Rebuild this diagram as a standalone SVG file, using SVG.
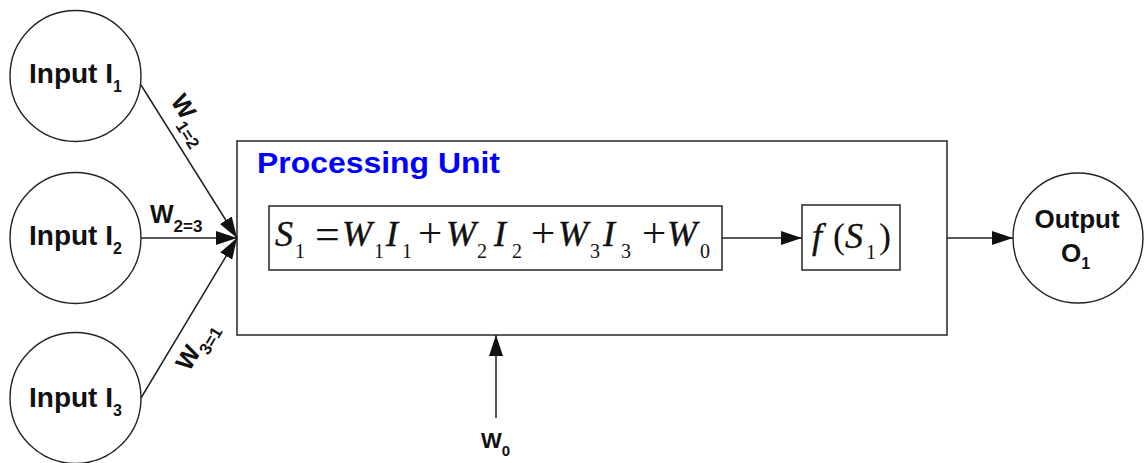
<svg xmlns="http://www.w3.org/2000/svg" width="1144" height="463" viewBox="0 0 1144 463">
<style>
.nd circle{fill:#fff;stroke:#222;stroke-width:1.4}
.box{fill:none;stroke:#333;stroke-width:1.6}
.lbl{font-family:"Liberation Sans",Arial,sans-serif;font-weight:bold;fill:#111}
.mi{font-family:"Liberation Serif","Times New Roman",serif;font-style:italic;fill:#111;stroke:#111;stroke-width:0.4}
.mr{font-family:"Liberation Serif","Times New Roman",serif;font-style:normal;fill:#111}
.conn line{stroke:#222;stroke-width:1.5}
</style>
<defs>
<marker id="ah" markerUnits="userSpaceOnUse" markerWidth="21" markerHeight="14" refX="21" refY="7" orient="auto">
<path d="M0,0 L21,7 L0,14 Z" fill="#111"/>
</marker>
</defs>
<rect width="1144" height="463" fill="#fff"/>

<g id="input1" class="nd">
<circle cx="75.5" cy="76" r="65.5"/>
<text class="lbl" x="29" y="83" font-size="28">Input I<tspan font-size="16" dy="9">1</tspan></text>
</g>
<g id="input2" class="nd">
<circle cx="75.5" cy="238" r="65.5"/>
<text class="lbl" x="29" y="245" font-size="28">Input I<tspan font-size="16" dy="9">2</tspan></text>
</g>
<g id="input3" class="nd">
<circle cx="75.5" cy="398" r="65.5"/>
<text class="lbl" x="29" y="407" font-size="28">Input I<tspan font-size="16" dy="9">3</tspan></text>
</g>

<g id="processing-unit">
<rect class="box" x="237" y="141" width="710" height="194"/>
<text class="lbl" x="257" y="173" font-size="29" style="fill:#0000ff" textLength="243" lengthAdjust="spacingAndGlyphs">Processing Unit</text>
</g>

<g id="sum">
<rect class="box" x="269" y="206" width="453" height="64"/>
<text font-size="36">
<tspan class="mi" x="275" y="246">S</tspan>
<tspan class="mr" x="295" y="258" font-size="20">1</tspan>
<tspan class="mr" x="315" y="249" font-size="44">=</tspan>
<tspan class="mi" x="342" y="246">W</tspan>
<tspan class="mr" x="374" y="258" font-size="20">1</tspan>
<tspan class="mi" x="386" y="246">I</tspan>
<tspan class="mr" x="402" y="258" font-size="20">1</tspan>
<tspan class="mr" x="418" y="247" font-size="43">+</tspan>
<tspan class="mi" x="446" y="246">W</tspan>
<tspan class="mr" x="477" y="258" font-size="20">2</tspan>
<tspan class="mi" x="494" y="246">I</tspan>
<tspan class="mr" x="512" y="258" font-size="20">2</tspan>
<tspan class="mr" x="531" y="247" font-size="43">+</tspan>
<tspan class="mi" x="558" y="246">W</tspan>
<tspan class="mr" x="590" y="258" font-size="20">3</tspan>
<tspan class="mi" x="603" y="246">I</tspan>
<tspan class="mr" x="621" y="258" font-size="20">3</tspan>
<tspan class="mr" x="642" y="247" font-size="43">+</tspan>
<tspan class="mi" x="667" y="246">W</tspan>
<tspan class="mr" x="700" y="258" font-size="20">0</tspan>
</text>
</g>

<g id="activation">
<rect class="box" x="802" y="205" width="98" height="65"/>
<text font-size="36">
<tspan class="mi" x="812" y="248">f</tspan>
<tspan class="mr" x="833" y="248">(</tspan>
<tspan class="mi" x="845" y="248">S</tspan>
<tspan class="mr" x="866" y="259" font-size="20">1</tspan>
<tspan class="mr" x="879" y="248">)</tspan>
</text>
</g>

<g id="output" class="nd">
<circle cx="1078" cy="238" r="65"/>
<text class="lbl" x="1077" y="228" font-size="26" text-anchor="middle">Output</text>
<text class="lbl" x="1061" y="262" font-size="26">O<tspan font-size="16" dy="7">1</tspan></text>
</g>

<g id="connectors" class="conn">
<line x1="141" y1="85" x2="237" y2="238" marker-end="url(#ah)"/>
<line x1="141" y1="238" x2="237" y2="238" marker-end="url(#ah)"/>
<line x1="141" y1="398" x2="237" y2="238" marker-end="url(#ah)"/>
<line x1="722" y1="238" x2="802" y2="238" marker-end="url(#ah)"/>
<line x1="947" y1="238" x2="1013" y2="238" marker-end="url(#ah)"/>
<line x1="496" y1="418" x2="496" y2="335" marker-end="url(#ah)"/>
</g>

<g id="weight-labels">
<g transform="translate(141,85) rotate(57.9)">
<text class="lbl" x="29" y="-16" font-size="25">W<tspan font-size="17" dy="9">1=2</tspan></text>
</g>
<text class="lbl" x="150" y="223" font-size="25">W<tspan font-size="17" dy="9">2=3</tspan></text>
<g transform="translate(141,398) rotate(-59)">
<text class="lbl" x="47" y="28" font-size="25">W<tspan font-size="17" dy="8">3=1</tspan></text>
</g>
<text class="lbl" x="481" y="448" font-size="22">W<tspan font-size="15" dy="8">0</tspan></text>
</g>
</svg>
